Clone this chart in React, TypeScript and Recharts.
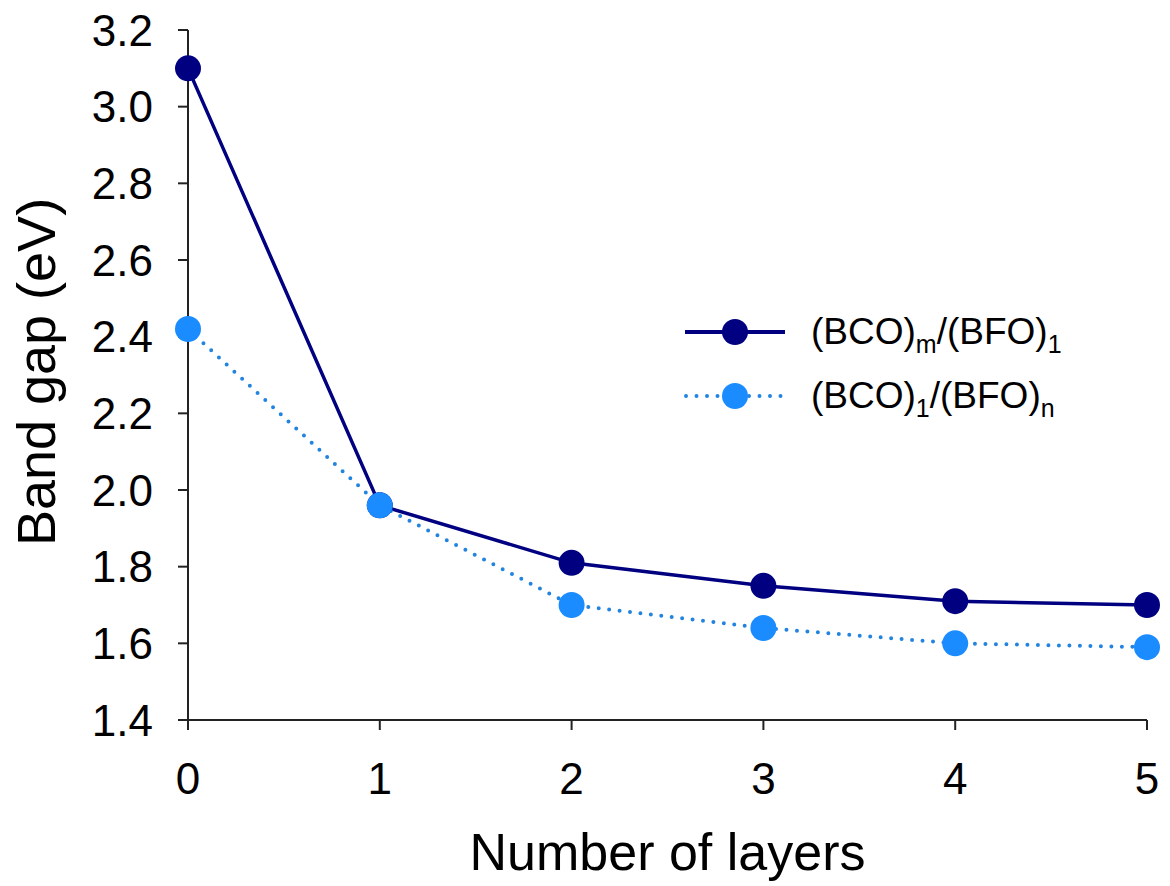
import React from "react"
import { LineChart, Line, XAxis, YAxis } from "recharts"

// band gap vs number of layers
const layers = [0, 1, 2, 3, 4, 5]
const bcoSeries = [3.1, 1.96, 1.81, 1.75, 1.71, 1.7]
const bfoSeries = [2.42, 1.96, 1.7, 1.64, 1.6, 1.59]
const yTicks = [1.4, 1.6, 1.8, 2.0, 2.2, 2.4, 2.6, 2.8, 3.0, 3.2]

const data = layers.map((n, i) => ({ n, bco: bcoSeries[i], bfo: bfoSeries[i] }))

const FONT = '"Liberation Sans", Arial, sans-serif'
const NAVY = "#000080"
const LIGHT = "#1a8cff"
const LIGHT_LINE = "#2384e0"
const AXIS = "#222"

function LegendBox() {
  const row: React.CSSProperties = {
    display: "flex",
    alignItems: "center",
    height: 64,
  }
  const txt: React.CSSProperties = {
    fontFamily: FONT,
    fontSize: 37,
    color: "#000",
    marginLeft: 26,
    whiteSpace: "nowrap",
  }
  const sub: React.CSSProperties = { fontSize: 25, verticalAlign: "-0.35em", lineHeight: 0 }
  return (
    <div style={{ position: "absolute", left: 683, top: 300 }}>
      <div style={row}>
        <svg width={102} height={30}>
          <line x1={2} y1={15} x2={102} y2={15} stroke={NAVY} strokeWidth={4} />
          <circle cx={52} cy={15} r={13} fill={NAVY} />
        </svg>
        <span style={txt}>
          (BCO)<span style={sub}>m</span>/(BFO)<span style={sub}>1</span>
        </span>
      </div>
      <div style={row}>
        <svg width={102} height={30}>
          <line
            x1={3}
            y1={15}
            x2={102}
            y2={15}
            stroke={LIGHT_LINE}
            strokeWidth={4}
            strokeDasharray="0 10.5"
            strokeLinecap="round"
          />
          <circle cx={52} cy={15} r={13} fill={LIGHT} />
        </svg>
        <span style={txt}>
          (BCO)<span style={sub}>1</span>/(BFO)<span style={sub}>n</span>
        </span>
      </div>
    </div>
  )
}

export default function App() {
  return (
    <div style={{ position: "absolute", left: 0, top: 0, width: 1170, height: 886, background: "#fff" }}>
      <LineChart
        width={1170}
        height={886}
        data={data}
        margin={{ top: 30, right: 23, bottom: 0, left: 0 }}
      >
        <XAxis
          dataKey="n"
          type="number"
          domain={[0, 5]}
          ticks={layers}
          height={166}
          axisLine={{ stroke: AXIS, strokeWidth: 2 }}
          tickLine={{ stroke: AXIS, strokeWidth: 2 }}
          tickSize={10}
          tickMargin={33}
          tick={{ fill: "#000", fontSize: 44, fontFamily: FONT }}
          label={{
            content: (props: any) => {
              const vb = props.viewBox
              return (
                <text
                  x={vb.x + vb.width / 2}
                  y={vb.y + 150}
                  textAnchor="middle"
                  fontSize={52}
                  fontFamily={FONT}
                  fill="#000"
                >
                  Number of layers
                </text>
              )
            },
          }}
        />
        <XAxis
          xAxisId="top"
          orientation="top"
          dataKey="n"
          type="number"
          domain={[0, 5]}
          height={0}
          tick={false}
          tickLine={false}
          axisLine={{ stroke: AXIS, strokeWidth: 2 }}
        />
        <YAxis
          type="number"
          domain={[1.4, 3.2]}
          ticks={yTicks}
          interval={0}
          width={188}
          axisLine={{ stroke: AXIS, strokeWidth: 2 }}
          tickLine={{ stroke: AXIS, strokeWidth: 2 }}
          tickSize={10}
          tickMargin={25}
          tickFormatter={(v: number) => v.toFixed(1)}
          tick={{ fill: "#000", fontSize: 44, fontFamily: FONT }}
          label={{
            content: (props: any) => {
              const vb = props.viewBox
              const cy = vb.y + vb.height / 2 - 3
              return (
                <text
                  x={36}
                  y={cy}
                  transform={`rotate(-90 36 ${cy})`}
                  textAnchor="middle"
                  dominantBaseline="central"
                  fontSize={54}
                  fontFamily={FONT}
                  fill="#000"
                >
                  Band gap (eV)
                </text>
              )
            },
          }}
        />
        <YAxis
          yAxisId="right"
          orientation="right"
          type="number"
          domain={[1.4, 3.2]}
          width={0}
          tick={false}
          tickLine={false}
          axisLine={{ stroke: AXIS, strokeWidth: 2 }}
        />
        <Line
          dataKey="bco"
          stroke={NAVY}
          strokeWidth={3.5}
          dot={{ r: 13, fill: NAVY, stroke: "none" }}
          activeDot={false}
          isAnimationActive={false}
        />
        <Line
          dataKey="bfo"
          stroke={LIGHT_LINE}
          strokeWidth={4}
          strokeDasharray="0 10.5"
          strokeLinecap="round"
          dot={{ r: 13, fill: LIGHT, stroke: "none", strokeDasharray: "none" }}
          activeDot={false}
          isAnimationActive={false}
        />
      </LineChart>
      <LegendBox />
    </div>
  )
}
